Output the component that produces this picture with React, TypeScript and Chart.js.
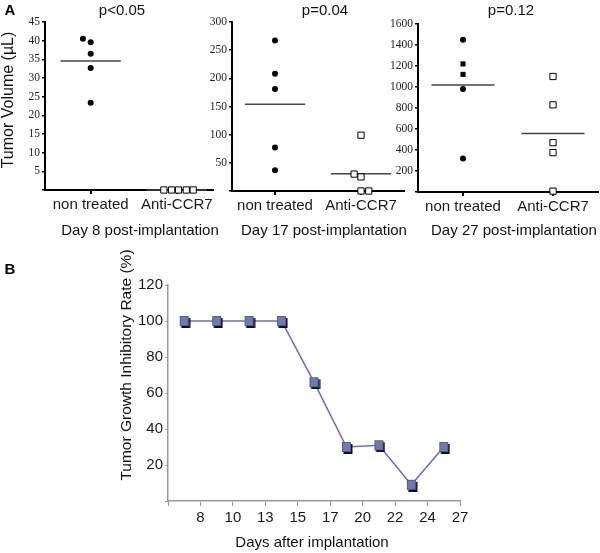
import React, { useEffect, useRef } from "react";
import { Chart, registerables } from "chart.js";
Chart.register(...registerables);

// ---------------- data ----------------
const groups = ["non treated", "Anti-CCR7"];

const day8Title = "p<0.05";
const day8Label = "Day 8 post-implantation";
const day8Treated = [40.5, 39.6, 36.5, 32.7, 23.4];
const day8TreatedPos = [0.91, 1, 1, 1, 1];
const day8TreatedShape = ["circle", "circle", "circle", "circle", "circle"];
const day8Anti = [0, 0, 0, 0, 0];
const day8AntiPos = [1.85, 1.94, 2.02, 2.11, 2.19];
const day8YMax = 45;
const day8YStep = 5;

const day17Title = "p=0.04";
const day17Label = "Day 17 post-implantation";
const day17Treated = [267, 208, 181, 77, 37];
const day17TreatedPos = [1, 1, 1, 1, 1];
const day17TreatedShape = ["circle", "circle", "circle", "circle", "circle"];
const day17Anti = [99, 30, 25, 0, 0];
const day17AntiPos = [2.0, 1.92, 2.0, 2.0, 2.09];
const day17YMax = 300;
const day17YStep = 50;

const day27Title = "p=0.12";
const day27Label = "Day 27 post-implantation";
const day27Treated = [1450, 1220, 1120, 980, 320];
const day27TreatedPos = [1, 1, 1, 1, 1];
const day27TreatedShape = ["circle", "rect", "rect", "circle", "circle"];
const day27Anti = [1100, 830, 470, 375, 8];
const day27AntiPos = [2, 2, 2, 2, 2];
const day27YMax = 1600;
const day27YStep = 200;

const dayLabels = ["8", "10", "13", "15", "17", "20", "22", "24", "27"];
const inhibitoryRate = [100, 100, 100, 100, 66, 30, 31, 9, 30];
const rateYMax = 120;
const rateYStep = 20;

// ---------------- helpers ----------------
const SANS = "'Liberation Sans', Arial, sans-serif";
const SERIF = "'Liberation Serif', 'Times New Roman', serif";
const HALF = 0.35;

type TextItem = {
  text: string;
  x: number;
  y: number;
  font: string;
  color?: string;
  rotate?: boolean;
};

function textPlugin(items: TextItem[]) {
  return {
    id: "pageText",
    afterDraw(chart: any) {
      const ctx = chart.ctx;
      ctx.save();
      items.forEach((t) => {
        ctx.save();
        ctx.font = t.font;
        ctx.fillStyle = t.color || "#111";
        ctx.textAlign = "center";
        ctx.textBaseline = "middle";
        ctx.translate(t.x, t.y);
        if (t.rotate) ctx.rotate(-Math.PI / 2);
        ctx.fillText(t.text, 0, 0);
        ctx.restore();
      });
      ctx.restore();
    },
  };
}

const mean = (a: number[]) => a.reduce((s, v) => s + v, 0) / a.length;

function scatterConfig(o: any) {
  const mT = mean(o.treated);
  const mA = mean(o.anti);
  return {
    type: "scatter",
    data: {
      datasets: [
        {
          data: o.treated.map((y: number, i: number) => ({ x: o.treatedPos[i], y })),
          pointStyle: o.treatedShape,
          pointRadius: o.treatedShape.map((s: string) => (s === "rect" ? 3.6 : 3)),
          backgroundColor: "#000",
          borderColor: "#000",
          borderWidth: 0,
          clip: false,
          order: 1,
        },
        {
          data: o.anti.map((y: number, i: number) => ({ x: o.antiPos[i], y })),
          pointStyle: "rect",
          pointRadius: 4.4,
          backgroundColor: "#fff",
          borderColor: "#000",
          borderWidth: 1,
          clip: false,
          order: 0,
        },
        {
          type: "line",
          data: [
            { x: 1 - HALF, y: mT },
            { x: 1 + HALF, y: mT },
          ],
          borderColor: "#444",
          borderWidth: 1.5,
          pointRadius: 0,
          clip: false,
          order: 2,
        },
        {
          type: "line",
          data: [
            { x: 2 - HALF, y: mA },
            { x: 2 + HALF, y: mA },
          ],
          borderColor: "#444",
          borderWidth: 1.5,
          pointRadius: 0,
          clip: false,
          order: 2,
        },
      ],
    },
    options: {
      animation: false,
      responsive: false,
      events: [],
      layout: {
        autoPadding: false,
        padding: { top: o.padTop, right: o.padRight, left: 0, bottom: 0 },
      },
      plugins: { legend: { display: false }, tooltip: { enabled: false } },
      scales: {
        x: {
          type: "linear",
          min: o.xMin,
          max: o.xMax,
          afterFit: (s: any) => {
            s.height = o.xHeight;
          },
          afterBuildTicks: (s: any) => {
            s.ticks = groups.map((_, i) => ({ value: i + 1 }));
          },
          ticks: {
            callback: (v: number) => groups[Math.round(v) - 1] ?? "",
            font: { family: SANS, size: 15 },
            color: "#1a1a1a",
            padding: 2,
            maxRotation: 0,
            autoSkip: false,
          },
          grid: {
            display: true,
            drawOnChartArea: false,
            drawTicks: true,
            tickLength: 4,
            color: "#000",
            lineWidth: 2,
          },
          border: { display: true, color: "#000", width: 2 },
        },
        y: {
          type: "linear",
          min: 0,
          max: o.yMax,
          afterFit: (s: any) => {
            s.width = o.yWidth;
          },
          ticks: {
            stepSize: o.yStep,
            callback: (v: number) => (v === 0 ? "" : String(v)),
            font: { family: SERIF, size: 11.5 },
            color: "#222",
            padding: 2,
          },
          grid: {
            display: true,
            drawOnChartArea: false,
            drawTicks: true,
            tickLength: 3,
            color: "#000",
            lineWidth: 1.5,
          },
          border: { display: true, color: "#000", width: 2 },
        },
      },
    },
  };
}

function makeMarker() {
  const c = document.createElement("canvas");
  c.width = 13;
  c.height = 14;
  const g = c.getContext("2d")!;
  g.fillStyle = "#111";
  g.fillRect(3.5, 4, 9, 10);
  g.fillStyle = "#7677ad";
  g.fillRect(2, 2, 9, 10);
  g.strokeStyle = "#5a5b92";
  g.lineWidth = 1;
  g.strokeRect(2.5, 2.5, 8, 9);
  return c;
}

function rateConfig(texts: TextItem[]) {
  return {
    type: "line",
    data: {
      datasets: [
        {
          data: inhibitoryRate.map((y, i) => ({ x: i + 0.5, y })),
          borderColor: "#6e6fb8",
          borderWidth: 1.6,
          pointStyle: makeMarker(),
          pointRadius: 6,
          clip: false,
        },
      ],
    },
    options: {
      animation: false,
      responsive: false,
      events: [],
      layout: { autoPadding: false, padding: { top: 55, right: 20, left: 0, bottom: 0 } },
      plugins: { legend: { display: false }, tooltip: { enabled: false } },
      scales: {
        x: {
          type: "linear",
          min: 0,
          max: dayLabels.length,
          afterFit: (s: any) => {
            s.height = 52;
          },
          ticks: {
            stepSize: 1,
            autoSkip: false,
            maxRotation: 0,
            callback: (v: number) => (v >= 1 ? dayLabels[Math.round(v) - 1] : ""),
            font: { family: SANS, size: 15 },
            color: "#1a1a1a",
            padding: 3,
          },
          grid: {
            display: true,
            drawOnChartArea: false,
            drawTicks: true,
            tickLength: 5,
            color: "#999",
            lineWidth: 1,
          },
          border: { display: true, color: "#999", width: 1.5 },
        },
        y: {
          type: "linear",
          min: 0,
          max: rateYMax,
          afterFit: (s: any) => {
            s.width = 168;
          },
          ticks: {
            stepSize: rateYStep,
            callback: (v: number) => (v === 0 ? "" : String(v)),
            font: { family: SANS, size: 15 },
            color: "#1a1a1a",
            padding: 2,
          },
          grid: {
            display: true,
            drawOnChartArea: false,
            drawTicks: true,
            tickLength: 3,
            color: "#999",
            lineWidth: 1,
          },
          border: { display: true, color: "#999", width: 1.5 },
        },
      },
    },
    plugins: [textPlugin(texts)],
  };
}

function ChartBox(props: { left: number; top: number; width: number; height: number; build: () => any }) {
  const ref = useRef<HTMLCanvasElement | null>(null);
  useEffect(() => {
    if (!ref.current) return;
    const chart = new Chart(ref.current, props.build());
    return () => chart.destroy();
  }, []);
  return (
    <canvas
      ref={ref}
      width={props.width}
      height={props.height}
      style={{
        position: "absolute",
        left: props.left,
        top: props.top,
        width: props.width,
        height: props.height,
      }}
    />
  );
}

function panelA(
  left: number,
  o: any,
  title: string,
  label: string,
  titleX: number,
  labelX: number,
  extra: TextItem[] = []
) {
  return () => {
    const cfg: any = scatterConfig(o);
    cfg.plugins = [
      textPlugin([
        { text: title, x: titleX - left, y: 11, font: `15px ${SANS}` },
        { text: label, x: labelX - left, y: 231, font: `15px ${SANS}` },
        ...extra,
      ]),
    ];
    return cfg;
  };
}

export default function App() {
  return (
    <div
      style={{
        position: "fixed",
        left: 0,
        top: 0,
        width: 600,
        height: 553,
        background: "#fff",
        overflow: "hidden",
      }}
    >
      <ChartBox
        left={0}
        top={0}
        width={226}
        height={245}
        build={panelA(
          0,
          {
            treated: day8Treated,
            treatedPos: day8TreatedPos,
            treatedShape: day8TreatedShape,
            anti: day8Anti,
            antiPos: day8AntiPos,
            yMax: day8YMax,
            yStep: day8YStep,
            xMin: 0.47,
            xMax: 2.42,
            yWidth: 45,
            xHeight: 55,
            padTop: 22,
            padRight: 13,
          },
          day8Title,
          day8Label,
          122,
          140,
          [
            { text: "A", x: 10, y: 11, font: `bold 15px ${SANS}`, color: "#000" },
            { text: "Tumor Volume (µL)", x: 9, y: 100, font: `16px ${SANS}`, rotate: true },
          ]
        )}
      />
      <ChartBox
        left={198}
        top={0}
        width={218}
        height={245}
        build={panelA(
          198,
          {
            treated: day17Treated,
            treatedPos: day17TreatedPos,
            treatedShape: day17TreatedShape,
            anti: day17Anti,
            antiPos: day17AntiPos,
            yMax: day17YMax,
            yStep: day17YStep,
            xMin: 0.5,
            xMax: 2.5,
            yWidth: 34,
            xHeight: 54,
            padTop: 22,
            padRight: 12,
          },
          day17Title,
          day17Label,
          325,
          324
        )}
      />
      <ChartBox
        left={384}
        top={0}
        width={216}
        height={245}
        build={panelA(
          384,
          {
            treated: day27Treated,
            treatedPos: day27TreatedPos,
            treatedShape: day27TreatedShape,
            anti: day27Anti,
            antiPos: day27AntiPos,
            yMax: day27YMax,
            yStep: day27YStep,
            xMin: 0.5,
            xMax: 2.5,
            yWidth: 34,
            xHeight: 53,
            padTop: 24,
            padRight: 2,
          },
          day27Title,
          day27Label,
          511,
          514
        )}
      />
      <ChartBox
        left={0}
        top={230}
        width={480}
        height={323}
        build={() =>
          rateConfig([
            { text: "B", x: 10, y: 40, font: `bold 15px ${SANS}`, color: "#000" },
            {
              text: "Tumor Growth Inhibitory Rate (%)",
              x: 127,
              y: 135,
              font: `15.5px ${SANS}`,
              rotate: true,
            },
            { text: "Days after implantation", x: 312, y: 313, font: `15px ${SANS}` },
          ])
        }
      />
    </div>
  );
}
